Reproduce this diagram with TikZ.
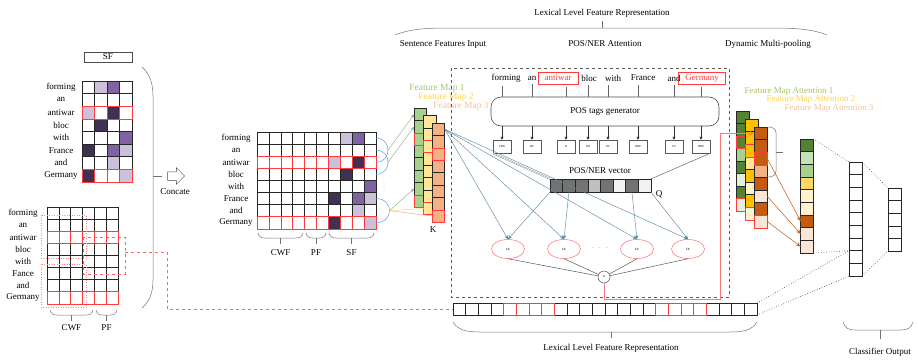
\documentclass[tikz,border=0pt]{standalone}
\usepackage{fontspec}
\setmainfont{Liberation Serif}
\usetikzlibrary{positioning,arrows.meta,shapes.geometric,shapes.arrows}

\definecolor{lavL}{HTML}{CCC1DA}
\definecolor{lavM}{HTML}{8064A2}
\definecolor{lavD}{HTML}{403152}
\definecolor{fmgreen}{HTML}{A9D18E}
\definecolor{fmyellow}{HTML}{FFE699}
\definecolor{fmorange}{HTML}{F4B183}
\definecolor{dgreen}{HTML}{548235}
\definecolor{lgreen}{HTML}{C5E0B4}
\definecolor{vlgreen}{HTML}{E2EFDA}
\definecolor{gold}{HTML}{FFC000}
\definecolor{lyellow}{HTML}{FFD966}
\definecolor{vlyellow}{HTML}{FFF2CC}
\definecolor{dorange}{HTML}{C55A11}
\definecolor{vlorange}{HTML}{FBE5D6}
\definecolor{hired}{HTML}{FF3B3B}
\definecolor{arrteal}{HTML}{5E8C9A}
\definecolor{arcblue}{HTML}{5B9BD5}
\definecolor{lblgreen}{HTML}{A6C46A}
\definecolor{lblyellow}{HTML}{FFD24D}
\definecolor{lblpeach}{HTML}{F6C09A}

\tikzset{
  cell/.style={draw=black!85, fill=white, line width=.6pt, inner sep=0pt, outer sep=0pt, minimum width=12pt, minimum height=12pt},
  redrow/.style={draw=hired, line width=.6pt},
  word/.style={font=\fontsize{9}{10}\selectfont, inner sep=1pt},
  redword/.style={word, text=hired, draw=hired, line width=.6pt, inner xsep=6.5pt, minimum height=12pt},
  tag/.style={draw=black!65, fill=white, line width=.5pt, minimum width=18pt, minimum height=13pt, inner sep=0pt, font=\fontsize{3}{3}\selectfont},
  alph/.style={ellipse, draw=hired!75, line width=.5pt, minimum width=33pt, minimum height=19pt, inner sep=0pt, font=\fontsize{5}{5}\selectfont},
  att/.style={-{Stealth[length=4pt,width=3.5pt]}, draw=arrteal, line width=.45pt},
  brc/.style={draw=black!55, line width=.5pt},
  dotl/.style={draw=black!75, dotted, line width=.6pt},
}

\begin{document}
\begin{tikzpicture}[x=1pt,y=-1pt,font=\fontsize{9}{10}\selectfont]
\useasboundingbox (0,0) rectangle (918,359);
\def\sfcells{1/2/lavL,1/3/lavM,3/1/lavL,3/3/lavD,4/2/lavD,5/4/lavM,6/1/lavD,6/3/lavM,6/4/lavL,7/3/lavL,8/1/lavD,8/4/lavL}

%SF GRID
\node[draw=black!70, line width=.6pt, minimum width=48pt, minimum height=10pt, inner sep=0pt] (sfhead) at (108,57) {SF};
\foreach \w [count=\r] in {forming,an,antiwar,bloc,with,France,and,Germany}
  \node[word] (sfw-\r) at (61,{81+(\r-0.5)*12.6}) {\w};
\foreach \r in {1,...,8}
  \foreach \c in {1,...,4}
    \node[cell, minimum width=12.5pt, minimum height=12.6pt] (sf-\r-\c) at ({82+(\c-0.5)*12.5},{81+(\r-0.5)*12.6}) {};
\foreach \r/\c/\col in \sfcells
  \node[cell, fill=\col, minimum width=12.5pt, minimum height=12.6pt] (sf-\r-\c) at ({82+(\c-0.5)*12.5},{81+(\r-0.5)*12.6}) {};
\foreach \r in {3,8}
  \foreach \c in {1,...,4}
    \draw[redrow] (sf-\r-\c.north west) rectangle (sf-\r-\c.south east);

%CWF + PF GRID
\foreach \w [count=\r] in {forming,an,antiwar,bloc,with,Fance,and,Germany}
  \node[word] (cpw-\r) at (23,{207+(\r-0.5)*12.1}) {\w};
\foreach \r in {1,...,8}
  \foreach \c in {1,...,6}
    \node[cell, minimum width=11.8pt, minimum height=12.1pt] (cp-\r-\c) at ({47+(\c-0.5)*11.8},{207+(\r-0.5)*12.1}) {};
\foreach \r in {3,8}
  \foreach \c in {1,...,6}
    \draw[redrow] (cp-\r-\c.north west) rectangle (cp-\r-\c.south east);
\draw[hired!60, dotted, line width=.5pt] (41,215) rectangle (86,258);
\draw[hired!60, dotted, line width=.5pt] (41,264) rectangle (86,307);
\draw[hired!80, dashed, line width=.6pt] (83,237) rectangle (125,274);
\coordinate (win) at (125,252);
\foreach \xa/\xb/\lbl in {50/93/CWF, 96/117/PF} {
  \draw[brc] (\xa,310) .. controls ({\xa+1},314) and ({\xa+3},315) .. ({\xa+7},315) -- ({\xb-7},315) .. controls ({\xb-3},315) and ({\xb-1},314) .. (\xb,310);
  \draw[brc] ({(\xa+\xb)/2},315) -- ({(\xa+\xb)/2},321);
  \node at ({(\xa+\xb)/2},328) {\lbl};
}

%CONCATE
\draw[brc] (142,67) .. controls (150,74) and (153,84) .. (153,96) -- (153,280) .. controls (153,292) and (150,301) .. (142,308);
\draw[brc] (153,176) -- (162,176);
\node[single arrow, draw=black!70, fill=white, line width=.5pt, minimum height=17pt, single arrow head extend=4pt, inner sep=4pt] (concat) at (174,176) {};
\node (concatlbl) at (175,192) {Concate};

%SENTENCE FEATURES INPUT
\foreach \w [count=\r] in {forming,an,antiwar,bloc,with,France,and,Germany}
  \node[word] (mw-\r) at (236,{132+(\r-0.5)*12.1}) {\w};
\foreach \r in {1,...,8}
  \foreach \c in {1,...,10}
    \node[cell, minimum width=11.9pt, minimum height=12.1pt] (m-\r-\c) at ({257+(\c-0.5)*11.9},{132+(\r-0.5)*12.1}) {};
\foreach \r/\c/\col in \sfcells
  \node[cell, fill=\col, minimum width=11.9pt, minimum height=12.1pt] (ms-\r-\c) at ({257+(\c+5.5)*11.9},{132+(\r-0.5)*12.1}) {};
\foreach \r in {3,8}
  \foreach \c in {1,...,10}
    \draw[redrow] (m-\r-\c.north west) rectangle (m-\r-\c.south east);
\foreach \xa/\xb/\lbl in {258/303/CWF, 306/326/PF, 329/374/SF} {
  \draw[brc] (\xa,233) .. controls ({\xa+1},237) and ({\xa+3},238) .. ({\xa+7},238) -- ({\xb-7},238) .. controls ({\xb-3},238) and ({\xb-1},237) .. (\xb,233);
  \draw[brc] ({(\xa+\xb)/2},238) -- ({(\xa+\xb)/2},244);
  \node at ({(\xa+\xb)/2},253) {\lbl};
}
\node[text=black!50, font=\fontsize{6}{6}\selectfont] (vdots) at (384,185) {$\vdots$};

%WINDOWS
\draw[arcblue, line width=.5pt] (m-1-10.east) .. controls +(16,0) and +(16,0) .. (m-3-10.east) coordinate[pos=.5] (k1);
\draw[arcblue, line width=.5pt] (m-2-10.east) .. controls +(16,0) and +(16,0) .. (m-4-10.east) coordinate[pos=.5] (k2);
\draw[arcblue, line width=.5pt] (m-6-10.east) .. controls +(18,0) and +(18,0) .. (m-8-10.east) coordinate[pos=.5] (k3);

%FEATURE MAPS
\foreach \px/\py/\col/\n in {420.5/108/fmgreen/1, 430/115.5/fmyellow/2, 438.5/123/fmorange/3} {
  \foreach \r in {1,...,8}
    \node[cell, fill=\col, minimum width=12.5pt, minimum height=12.4pt] (fm\n-\r) at (\px,{\py+(\r-0.5)*12.4}) {};
  \foreach \r in {3,8}
    \draw[redrow] (fm\n-\r.north west) rectangle (fm\n-\r.south east);
}
\draw[-{Stealth[length=4pt,width=3pt]}, fmgreen!85!black, line width=.45pt] (k1) -- (fm1-1.west);
\draw[-{Stealth[length=4pt,width=3pt]}, fmgreen!85!black, line width=.45pt] (k2) -- (fm1-2.west);
\draw[-{Stealth[length=4pt,width=3pt]}, fmgreen!85!black, line width=.45pt] (k3) -- (fm1-7.west);
\draw[lyellow, line width=.5pt] (k3) -- (fm2-8.west);
\draw[fmorange, line width=.5pt] (k3) -- (fm3-8.west);
\node[font=\fontsize{9.5}{10}\selectfont, text=lblgreen] (fmlbl1) at (437,88) {Feature Map 1};
\node[font=\fontsize{9.5}{10}\selectfont, text=lblyellow] (fmlbl2) at (446,97) {Feature Map 2};
\node[font=\fontsize{9.5}{10}\selectfont, text=lblpeach] (fmlbl3) at (461,106) {Feature Map 3};
\node (klbl) at (433,230) {K};

%POS/NER ATTENTION
\draw[black!65, dashed, line width=.6pt] (451,68) rectangle (729,297);
\foreach \w/\px/\s [count=\i] in {forming/506/word, an/532/word, antiwar/558/redword, bloc/589/word, with/613/word, France/643/word, and/674/word, Germany/702/redword}
  \node[\s] (pw-\i) at (\px,78) {\w};
\node[draw=black!70, rounded corners=10pt, line width=.6pt, minimum width=228pt, minimum height=29pt] (pos) at (605,111.5) {POS tags generator};
\foreach \t/\px [count=\i] in {VBG/502, DT/532, JJ/566, NN/588, IN/608, NNP/638, CC/674, NNP/701}
  \node[tag] (tag-\i) at (\px,146.5) {\t};
\foreach \i in {1,...,8} {
  \draw[black!60, line width=.5pt] ([yshift=-3pt]pw-\i.south -| tag-\i) -- (tag-\i |- pos.north);
  \draw[-{Triangle[length=3pt,width=3pt]}, black!80, line width=.5pt] (tag-\i |- pos.south) -- (tag-\i.north);
}

%Q
\foreach \col [count=\i] in {black!55,black!55,black!55,black!25,black!55,black!5,black!55,black!5}
  \node[cell, fill=\col, minimum width=12.6pt, minimum height=13pt] (vec-\i) at ({550+(\i-0.5)*12.6},185.5) {};
\node (veclbl) at (600,171) {POS/NER vector};
\node (qlbl) at (659,194) {Q};
\draw[black!55, double, line width=.35pt] (tag-1.south west) -- (vec-1.north west);
\draw[black!60, line width=.5pt] (tag-8.south east) -- (vec-8.north east);

%ALPHA
\node[alph] (e1) at (508,249) {$\alpha$};
\node[alph] (e2) at (564,249) {$\alpha$};
\node[alph] (e3) at (637,249) {$\alpha$};
\node[alph] (e4) at (688,249) {$\alpha$};
\node[text=black!55] (edots) at (600,248) {$\cdot\ \cdot\ \cdot$};
\node[circle, draw=black!70, line width=.5pt, minimum size=12pt, inner sep=0pt, font=\fontsize{6}{6}\selectfont] (plus) at (604,277) {+};
\foreach \e in {1,...,4}
  \draw[att] (fm3-1.east) -- (e\e.north);
\draw[att] (vec-1.south west) -- (e1.north);
\draw[att] (vec-2.south) -- (e2.north);
\draw[att] (vec-7.south) -- (e3.north);
\draw[att] (vec-8.south east) -- (e4.north);
\foreach \e in {1,...,4}
  \draw[black!65, line width=.5pt] (e\e.south) -- (plus);

%FEATURE MAP ATTENTION
\foreach \col [count=\r] in {dgreen,dgreen,dgreen,fmgreen,dgreen,vlgreen,dgreen,vlgreen}
  \node[cell, fill=\col, minimum width=12.5pt, minimum height=12.5pt] (fa1-\r) at (743,{111+(\r-0.5)*12.5}) {};
\foreach \r in {3,8}
  \draw[redrow] (fa1-\r.north west) rectangle (fa1-\r.south east);
\foreach \col [count=\r] in {gold,gold,gold,fmyellow,gold,vlyellow,gold,vlyellow}
  \node[cell, fill=\col, minimum width=12.5pt, minimum height=12.6pt] (fa2-\r) at (752,{119+(\r-0.5)*12.6}) {};
\foreach \r in {3,8}
  \draw[redrow] (fa2-\r.north west) rectangle (fa2-\r.south east);
\foreach \col [count=\r] in {dorange,dorange,dorange,fmorange,dorange,vlorange,dorange,vlorange}
  \node[cell, fill=\col, minimum width=12.5pt, minimum height=12.6pt] (fa3-\r) at (761,{127+(\r-0.5)*12.6}) {};
\foreach \r in {3,8}
  \draw[redrow] (fa3-\r.north west) rectangle (fa3-\r.south east);
\draw[-{Stealth[length=5pt,width=4pt]}, hired!70, line width=.7pt] (plus.south) -- ++(0,16) -| ([xshift=-34pt]fa3-1.west) -- (fa3-1.west);
\node[text=lblgreen] (falbl1) at (789,91) {Feature Map Attention 1};
\node[text=lblyellow] (falbl2) at (811,99) {Feature Map Attention 2};
\node[text=lblpeach] (falbl3) at (829,108) {Feature Map Attention 3};
\draw[brc] (767,127) .. controls (772,127) and (776,128) .. (776,133) -- (776,171) .. controls (776,176) and (772,177) .. (767,177);
\draw[brc] (776,152) -- (783,152);

%DYNAMIC MULTI-POOLING
\foreach \col [count=\r] in {dgreen,lgreen,fmgreen,lyellow,vlyellow,vlyellow,dorange,vlorange,vlorange}
  \node[cell, fill=\col, minimum width=12.5pt, minimum height=12.67pt] (pool-\r) at (807,{139+(\r-0.5)*12.67}) {};
\draw[-{Stealth[length=5pt,width=4pt]}, dorange!90, line width=.6pt] (fa3-3.east) -- (pool-7.west);
\draw[-{Stealth[length=5pt,width=4pt]}, dorange!90, line width=.6pt] (fa3-6.east) -- (pool-8.west);
\draw[-{Stealth[length=5pt,width=4pt]}, dorange!90, line width=.6pt] (fa3-8.east) -- (pool-9.west);

%CLASSIFIER
\foreach \r in {1,...,9}
  \node[cell, minimum width=13pt, minimum height=12.67pt] (cls1-\r) at (855.5,{162+(\r-0.5)*12.67}) {};
\foreach \r in {1,...,5}
  \node[cell, minimum width=13pt, minimum height=12.6pt] (cls2-\r) at (894.5,{188+(\r-0.5)*12.6}) {};

%LEXICAL LEVEL FEATURE REPRESENTATION
\foreach \i in {1,...,24}
  \node[cell, minimum width=12.67pt, minimum height=12pt] (bar-\i) at ({453+(\i-0.5)*12.67},309) {};
\foreach \i in {5,6,7,8,17,18,19,20}
  \draw[redrow] (bar-\i.north west) rectangle (bar-\i.south east);
\draw[hired!80, dashed, line width=.6pt] (win) -| (167,309) -- (bar-1.west);
\draw[brc] (453,322) .. controls (458,330) and (466,332) .. (480,332) -- (730,332) .. controls (744,332) and (752,330) .. (757,322);
\draw[brc] (611,332) -- (611,338);
\node (barlbl) at (611,348) {Lexical Level Feature Representation};

\draw[dotl] (pool-1.north east) -- (cls1-1.north west);
\draw[dotl] (pool-9.south east) -- (cls1-7.south west);
\draw[dotl] (bar-24.north east) -- (cls1-7.south west);
\draw[dotl] (bar-24.south east) -- (cls1-9.south west);
\draw[dotl] (cls1-1.north east) -- (cls2-1.north west);
\draw[dotl] (cls1-9.south east) -- (cls2-5.south west);
\draw[brc] (843,322) .. controls (845,328) and (848,330) .. (855,330) -- (901,330) .. controls (908,330) and (911,328) .. (913,322);
\draw[brc] (880,330) -- (880,339);
\node (clslbl) at (880,352) {Classifier Output};

%HEADER
\node (toplbl) at (602,13) {Lexical Level Feature Representation};
\draw[brc] (395,35) .. controls (410,29) and (425,28) .. (450,28) -- (770,28) .. controls (795,28) and (812,29) .. (827,35);
\draw[brc] (602,28) -- (602,21);
\node (sec1) at (443,44) {Sentence Features Input};
\node (sec2) at (605,44) {POS/NER Attention};
\node (sec3) at (768,44) {Dynamic Multi-pooling};
\end{tikzpicture}
\end{document}
